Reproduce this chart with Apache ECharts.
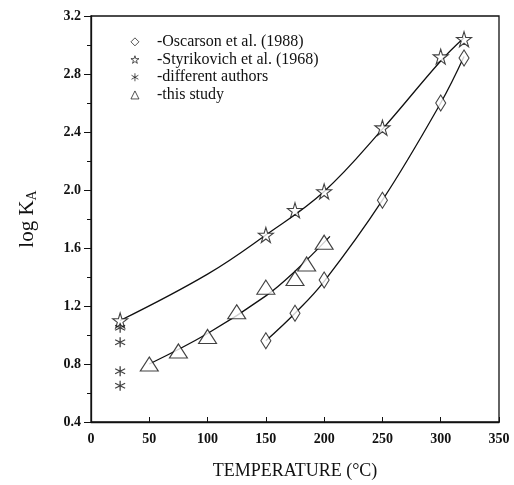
<!DOCTYPE html>
<html>
<head>
<meta charset="utf-8">
<script src="https://cdn.jsdelivr.net/npm/echarts@6/dist/echarts.min.js"></script>
<style>
html, body { margin: 0; padding: 0; background: #fff; }
#main { width: 514px; height: 485px; }
</style>
</head>
<body>
<div id="main"></div>
<script>
// points: [temperature, log KA]
var oscarson = [[150, 0.96], [175, 1.15], [200, 1.38], [250, 1.93], [300, 2.60], [320, 2.91]];
var styrikovich = [[25, 1.10], [150, 1.69], [175, 1.86], [200, 1.99], [250, 2.43], [300, 2.92], [320, 3.04]];
var otherAuthors = [[25, 1.05], [25, 0.95], [25, 0.75], [25, 0.65]];
var thisStudy = [[50, 0.80], [75, 0.89], [100, 0.99], [125, 1.16], [150, 1.33], [175, 1.39], [185, 1.49], [200, 1.64]];

// hand drawn fit curves
var fitStyr = [[25, 1.10], [100, 1.42], [150, 1.69], [200, 1.99], [250, 2.42], [300, 2.89], [320, 3.05]];
var fitOsc = [[150, 0.96], [175, 1.15], [200, 1.37], [250, 1.93], [300, 2.60], [320, 2.92]];
var fitThis = [[50, 0.80], [100, 1.01], [150, 1.27], [175, 1.44], [205, 1.68]];

var seriesNames = ['-Oscarson et al. (1988)', '-Styrikovich et al. (1968)', '-different authors', '-this study'];

var starPath = 'path://M50,0 L61,35 L98,35 L68,57 L79,91 L50,70 L21,91 L32,57 L2,35 L39,35 Z';
var astPath = 'path://M50,0 L50,100 M7,25 L93,75 M7,75 L93,25';

var myChart = echarts.init(document.getElementById('main'));

var serif = 'Liberation Serif';
var markStyle = { color: '#fff', borderColor: '#111', borderWidth: 1.1 };

function fitLine(d) {
    return {
        type: 'line', data: d, smooth: 0.4, showSymbol: false, silent: true,
        lineStyle: { color: '#111', width: 1.3 }, z: 1
    };
}

var option = {
    animation: false,
    backgroundColor: '#fff',
    grid: { left: 91, right: 15, top: 16, bottom: 61, show: true, borderColor: '#111', borderWidth: 1.3 },
    legend: {
        data: seriesNames,
        orient: 'vertical',
        left: 129, top: 33, padding: 0,
        itemWidth: 8, itemHeight: 8, itemGap: 0,
        itemStyle: { borderWidth: 0.9 },
        textStyle: { fontFamily: serif, fontSize: 16, lineHeight: 17.7, color: '#111', padding: [0, 0, 0, 13] }
    },
    xAxis: {
        type: 'value', min: 0, max: 350, interval: 50,
        name: 'TEMPERATURE (°C)', nameLocation: 'middle', nameGap: 40,
        nameTextStyle: { fontFamily: serif, fontSize: 18, color: '#111' },
        axisLine: { lineStyle: { color: '#111', width: 1.3 } },
        axisTick: { inside: true, length: 5, lineStyle: { color: '#111' } },
        axisLabel: { fontFamily: serif, fontSize: 14, fontWeight: 'bold', color: '#111', margin: 10 },
        splitLine: { show: false }
    },
    yAxis: {
        type: 'value', min: 0.4, max: 3.2, interval: 0.4,
        name: 'log K{s|A}', nameLocation: 'middle', nameGap: 52, nameRotate: 90,
        nameTextStyle: {
            fontFamily: serif, fontSize: 21, color: '#111',
            rich: { s: { fontFamily: serif, fontSize: 14, color: '#111', verticalAlign: 'bottom', padding: [9, 0, 0, 0] } }
        },
        axisLine: { lineStyle: { color: '#111', width: 1.3 } },
        axisTick: { length: 7, lineStyle: { color: '#111' } },
        minorTick: { show: true, splitNumber: 2, length: 4, lineStyle: { color: '#111' } },
        axisLabel: {
            fontFamily: serif, fontSize: 14, fontWeight: 'bold', color: '#111', margin: 10,
            formatter: function (v) { return v.toFixed(1); }
        },
        splitLine: { show: false }
    },
    series: [
        fitLine(fitStyr), fitLine(fitOsc), fitLine(fitThis),
        { name: seriesNames[0], type: 'scatter', data: oscarson, symbol: 'diamond', symbolSize: [10, 16], itemStyle: markStyle, z: 3 },
        { name: seriesNames[1], type: 'scatter', data: styrikovich, symbol: starPath, symbolSize: 15, itemStyle: markStyle, z: 3 },
        { name: seriesNames[2], type: 'scatter', data: otherAuthors, symbol: astPath, symbolSize: 10, itemStyle: { color: 'none', borderColor: '#111', borderWidth: 1.3 }, z: 3 },
        { name: seriesNames[3], type: 'scatter', data: thisStudy, symbol: 'triangle', symbolSize: [18, 14], itemStyle: markStyle, z: 3 }
    ]
};

myChart.setOption(option);
</script>
</body>
</html>
